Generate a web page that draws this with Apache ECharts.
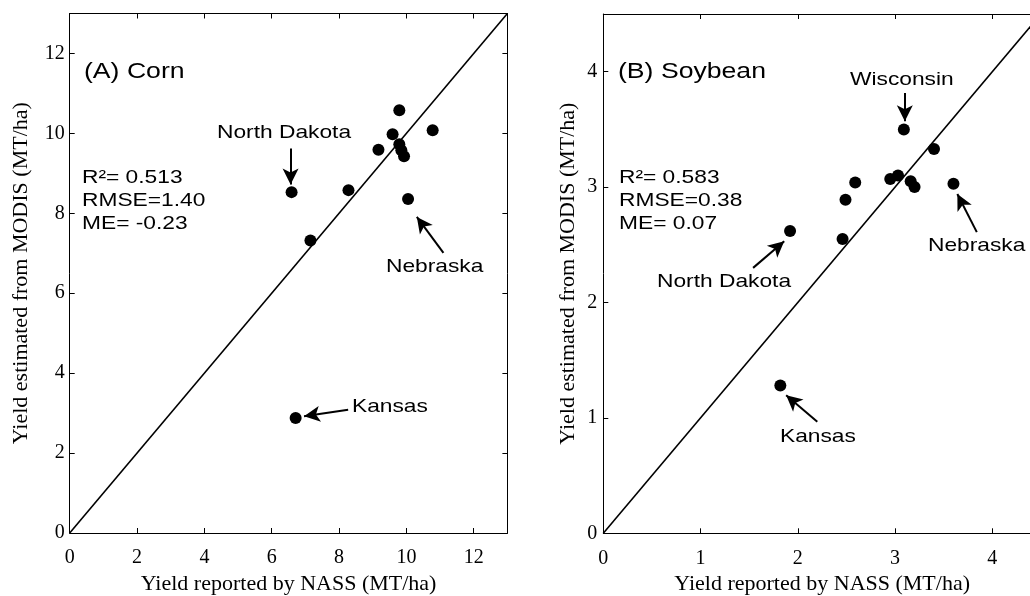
<!DOCTYPE html>
<html><head><meta charset="utf-8">
<script src="https://cdn.jsdelivr.net/npm/echarts@6/dist/echarts.min.js"></script>
<style>html,body{margin:0;padding:0;background:#fff}#c{width:1030px;height:596px}</style>
</head><body><div id="c"></div>
<script>
// ---- data ----
const cornNASS  = [6.59, 8.28, 7.15, 9.17, 9.59, 9.79, 10.78, 9.79, 9.85, 9.93, 10.05, 6.71];
const cornMODIS = [8.53, 8.58, 7.32, 9.59, 9.98, 10.58, 10.08, 9.73, 9.58, 9.43, 8.36, 2.88];
const soyNASS   = [3.09, 3.40, 2.95, 3.03, 3.16, 3.20, 3.60, 2.59, 2.49, 2.46, 1.92, 1.82];
const soyMODIS  = [3.50, 3.33, 3.07, 3.10, 3.05, 3.00, 3.03, 3.04, 2.89, 2.55, 2.62, 1.28];
const cornTickStep = 2, cornMax = 13;
const soyTickStep = 1, soyMax = 4.5;
const xAxisTitle = 'Yield reported by NASS (MT/ha)';
const yAxisTitle = 'Yield estimated from MODIS (MT/ha)';
const cornTitle = '(A) Corn';
const soyTitle = '(B) Soybean';
const cornStats = ['R\u00B2= 0.513', 'RMSE=1.40', 'ME= -0.23'];
const soyStats  = ['R\u00B2= 0.583', 'RMSE=0.38', 'ME= 0.07'];
// arrows in data coordinates: [x1, y1, x2(head), y2(head)]
const cornArrows = [[6.56, 9.62, 6.56, 8.72], [11.10, 7.01, 10.31, 7.91], [8.27, 3.085, 6.96, 2.92]];
const soyArrows  = [[3.10, 3.815, 3.10, 3.57], [3.84, 2.61, 3.64, 2.94], [1.54, 2.30, 1.86, 2.53], [2.20, 0.966, 1.88, 1.197]];

const SERIF = '"Liberation Serif", "Times New Roman", serif';
const SANS = '"Liberation Sans", Arial, Helvetica, sans-serif';

function mainX(grid, max, step) {
  return {
    type: 'value', gridIndex: grid, min: 0, max: max, interval: step, position: 'bottom',
    name: xAxisTitle, nameLocation: 'middle', nameGap: 40,
    nameTextStyle: { fontFamily: SERIF, fontSize: 22, color: '#000' },
    axisLine: { show: true, lineStyle: { color: '#000', width: 1 } },
    axisTick: { show: true, inside: true, length: 5, lineStyle: { color: '#000' } },
    axisLabel: { fontFamily: SERIF, fontSize: 20, color: '#000', margin: 15, showMaxLabel: false },
    splitLine: { show: false }
  };
}
function mirrorX(grid, max, step) {
  return {
    type: 'value', gridIndex: grid, min: 0, max: max, interval: step, position: 'top',
    axisLine: { show: true, onZero: false, lineStyle: { color: '#000', width: 1 } },
    axisTick: { show: true, inside: true, length: 5, lineStyle: { color: '#000' } },
    axisLabel: { show: false }, splitLine: { show: false }
  };
}
function mainY(grid, max, step, gap, margin) {
  return {
    type: 'value', gridIndex: grid, min: 0, max: max, interval: step, position: 'left',
    name: yAxisTitle, nameLocation: 'middle', nameGap: gap,
    nameTextStyle: { fontFamily: SERIF, fontSize: 22, color: '#000' },
    axisLine: { show: true, lineStyle: { color: '#000', width: 1 } },
    axisTick: { show: true, inside: true, length: 5, lineStyle: { color: '#000' } },
    axisLabel: { fontFamily: SERIF, fontSize: 20, color: '#000', margin: margin, showMaxLabel: false },
    splitLine: { show: false }
  };
}
function mirrorY(grid, max, step) {
  return {
    type: 'value', gridIndex: grid, min: 0, max: max, interval: step, position: 'right',
    axisLine: { show: true, onZero: false, lineStyle: { color: '#000', width: 1 } },
    axisTick: { show: true, inside: true, length: 5, lineStyle: { color: '#000' } },
    axisLabel: { show: false }, splitLine: { show: false }
  };
}
function arrowMarks(arr) {
  return {
    silent: true, animation: false,
    symbol: ['none', 'arrow'], symbolSize: [12, 16],
    label: { show: false },
    lineStyle: { color: '#000', width: 2, type: 'solid' },
    emphasis: { disabled: true },
    data: arr.map(a => [{ coord: [a[0], a[1]] }, { coord: [a[2], a[3]] }])
  };
}
function txt(x, y, s, size, sx) {
  return {
    type: 'text', x: x, y: y, scaleX: sx, silent: true,
    style: { text: s, fontFamily: SANS, fontSize: size, fill: '#000', align: 'left', verticalAlign: 'middle' }
  };
}

const SX = 1.23;
const graphics = [
  txt(84, 72, cornTitle, 22, 1.21),
  txt(82, 177.5, cornStats[0], 18.5, SX),
  txt(82, 201, cornStats[1], 18.5, SX),
  txt(82, 224, cornStats[2], 18.5, SX),
  txt(217, 133, 'North Dakota', 18.5, SX),
  txt(386, 267, 'Nebraska', 18.5, SX),
  txt(352, 406.5, 'Kansas', 18.5, SX),
  txt(618, 71.5, soyTitle, 22, 1.21),
  txt(619, 177.5, soyStats[0], 18.5, SX),
  txt(619, 201, soyStats[1], 18.5, SX),
  txt(619, 224, soyStats[2], 18.5, SX),
  txt(850, 80, 'Wisconsin', 18.5, SX),
  txt(928, 246, 'Nebraska', 18.5, SX),
  txt(657, 282, 'North Dakota', 18.5, SX),
  txt(780, 437, 'Kansas', 18.5, SX)
];

const chart = echarts.init(document.getElementById('c'), null, { renderer: 'canvas' });
chart.setOption({
  animation: false,
  backgroundColor: '#fff',
  grid: [
    { left: 69.7, top: 13.5, right: 522.6, bottom: 63, containLabel: false, outerBoundsMode: 'none' },
    { left: 603.3, top: 14, right: -11, bottom: 62.7, containLabel: false, outerBoundsMode: 'none' }
  ],
  xAxis: [mainX(0, cornMax, cornTickStep), mirrorX(0, cornMax, cornTickStep), mainX(1, soyMax, soyTickStep), mirrorX(1, soyMax, soyTickStep)],
  yAxis: [mainY(0, cornMax, cornTickStep, 37, 5), mirrorY(0, cornMax, cornTickStep), mainY(1, soyMax, soyTickStep, 24, 6), mirrorY(1, soyMax, soyTickStep)],
  series: [
    { type: 'line', xAxisIndex: 0, yAxisIndex: 0, data: [[0, 0], [cornMax, cornMax]], showSymbol: false, silent: true,
      lineStyle: { color: '#000', width: 1.6 } },
    { type: 'scatter', xAxisIndex: 0, yAxisIndex: 0, symbolSize: 12, itemStyle: { color: '#000', opacity: 1 },
      data: cornNASS.map((x, i) => [x, cornMODIS[i]]), markLine: arrowMarks(cornArrows) },
    { type: 'line', xAxisIndex: 2, yAxisIndex: 2, data: [[0, 0], [soyMax, soyMax]], showSymbol: false, silent: true,
      lineStyle: { color: '#000', width: 1.6 } },
    { type: 'scatter', xAxisIndex: 2, yAxisIndex: 2, symbolSize: 12, itemStyle: { color: '#000', opacity: 1 },
      data: soyNASS.map((x, i) => [x, soyMODIS[i]]), markLine: arrowMarks(soyArrows) }
  ],
  graphic: graphics
});
</script>
</body></html>
